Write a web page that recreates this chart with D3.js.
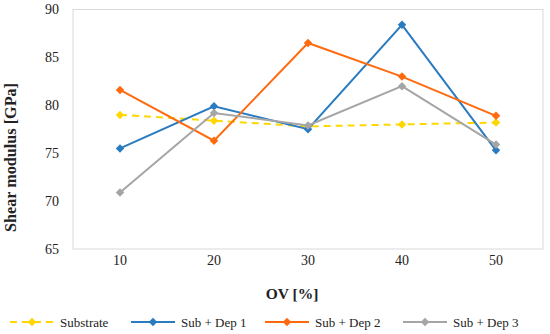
<!DOCTYPE html>
<html>
<head>
<meta charset="utf-8">
<script src="https://d3js.org/d3.v7.min.js"></script>
<style>
  body { margin: 0; background: #fff; }
  text { font-family: "Liberation Serif", "DejaVu Serif", serif; fill: #222; }
</style>
</head>
<body>
<div id="chart"></div>
<script>
// chart values
var categories = ["10", "20", "30", "40", "50"];
var seriesNames = ["Substrate", "Sub + Dep 1", "Sub + Dep 2", "Sub + Dep 3"];
var substrate = [79.0, 78.4, 77.8, 78.0, 78.2];
var subDep1 = [75.5, 79.9, 77.5, 88.4, 75.3];
var subDep2 = [81.6, 76.3, 86.5, 83.0, 78.9];
var subDep3 = [70.9, 79.2, 77.9, 82.0, 75.9];
var yTicks = [65, 70, 75, 80, 85, 90];
var colors = ["#FFD700", "#2A7BC0", "#FF6A10", "#A5A5A5"];

var allSeries = [substrate, subDep1, subDep2, subDep3];
var serif = "'Liberation Serif', 'DejaVu Serif', serif";

var width = 550, height = 334;
var margin = {top: 9.5, right: 7, bottom: 85, left: 73};

var svg = d3.select("#chart").append("svg")
  .attr("width", width).attr("height", height);

var x = d3.scaleBand().domain(categories)
  .range([margin.left, width - margin.right]);
var y = d3.scaleLinear().domain([65, 90])
  .range([height - margin.bottom, margin.top]);

// plot border
svg.append("rect")
  .attr("x", margin.left).attr("y", margin.top)
  .attr("width", width - margin.left - margin.right)
  .attr("height", height - margin.bottom - margin.top)
  .attr("fill", "none").attr("stroke", "#d9d9d9").attr("stroke-width", 1);

// axes
var yAxis = svg.append("g")
  .attr("transform", "translate(" + margin.left + ",0)")
  .call(d3.axisLeft(y).tickValues(yTicks).tickSize(0).tickPadding(14))
  .attr("font-family", serif).attr("font-size", 14);
yAxis.select(".domain").remove();
yAxis.selectAll("text").attr("fill", "#222");

var xAxis = svg.append("g")
  .attr("transform", "translate(0," + (height - margin.bottom) + ")")
  .call(d3.axisBottom(x).tickSize(0).tickPadding(6))
  .attr("font-family", serif).attr("font-size", 14);
xAxis.select(".domain").remove();
xAxis.selectAll("text").attr("fill", "#222");

// titles
svg.append("text")
  .attr("transform", "translate(16,157.5) rotate(-90)")
  .attr("text-anchor", "middle")
  .attr("textLength", 149).attr("lengthAdjust", "spacingAndGlyphs")
  .style("font-size", "16px").style("font-weight", "bold")
  .text("Shear  modulus [GPa]");

svg.append("text")
  .attr("x", 292).attr("y", 299)
  .attr("text-anchor", "middle")
  .style("font-size", "15.5px").style("font-weight", "bold")
  .text("OV [%]");

var line = d3.line()
  .x(function(d, i) { return x(categories[i]) + x.bandwidth() / 2; })
  .y(function(d) { return y(d); });

var diamond = d3.symbol().type(d3.symbolDiamond2).size(46);

// draw lines in order so later series are on top
allSeries.forEach(function(vals, s) {
  var g = svg.append("g");
  g.append("path")
    .datum(vals)
    .attr("d", line)
    .attr("fill", "none")
    .attr("stroke", colors[s])
    .attr("stroke-width", 2)
    .attr("stroke-dasharray", s === 0 ? "7,5" : null);
  g.selectAll("path.m").data(vals).enter().append("path")
    .attr("class", "m")
    .attr("d", diamond)
    .attr("transform", function(d, i) {
      return "translate(" + (x(categories[i]) + x.bandwidth() / 2) + "," + y(d) + ")";
    })
    .attr("fill", colors[s]);
});

// legend
var legendX = [10, 131, 265, 403];
var legend = svg.append("g");
seriesNames.forEach(function(name, s) {
  var lg = legend.append("g").attr("transform", "translate(" + legendX[s] + ",322)");
  lg.append("line")
    .attr("x1", 0).attr("x2", 44).attr("y1", 0).attr("y2", 0)
    .attr("stroke", colors[s]).attr("stroke-width", 2)
    .attr("stroke-dasharray", s === 0 ? "7,5" : null);
  lg.append("path").attr("d", diamond).attr("transform", "translate(22,0)")
    .attr("fill", colors[s]);
  lg.append("text").attr("x", 50).attr("y", 4.5)
    .style("font-size", "13px").text(name);
});
</script>
</body>
</html>
